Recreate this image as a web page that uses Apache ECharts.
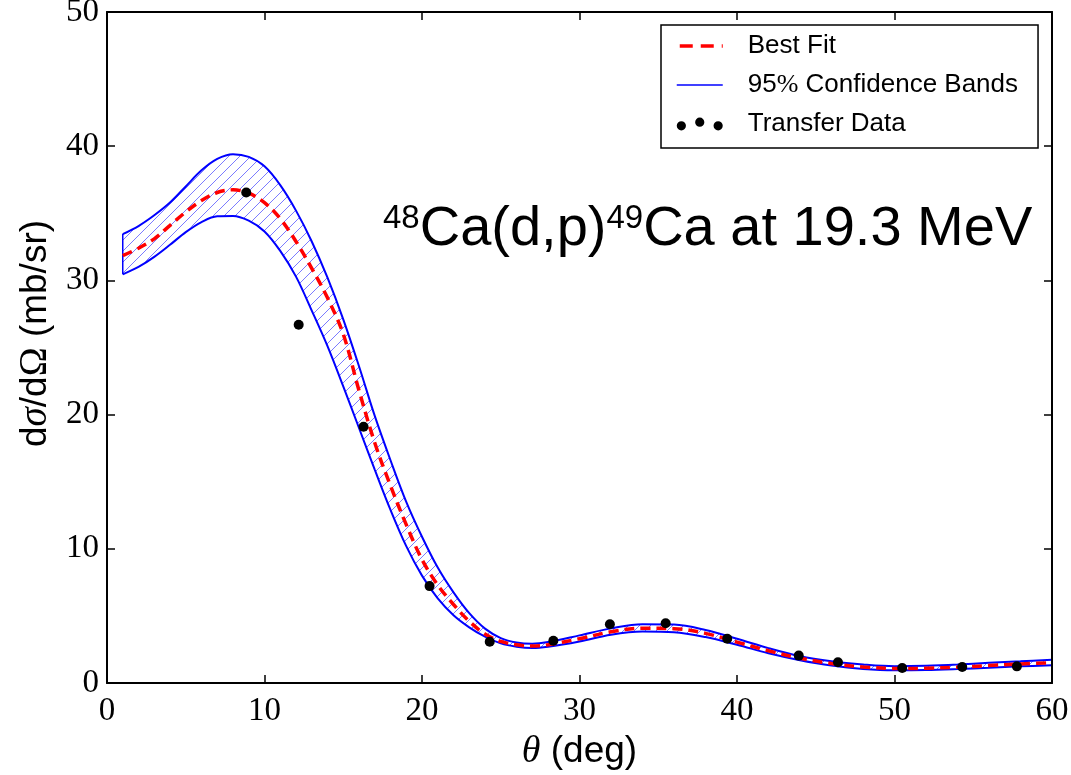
<!DOCTYPE html>
<html><head><meta charset="utf-8">
<script src="https://cdn.jsdelivr.net/npm/echarts@6/dist/echarts.min.js"></script>
<style>html,body{margin:0;padding:0;background:#fff}#c{width:1071px;height:775px}</style>
</head><body><div id="c"></div>
<script>
// ---- data ----
const theta = [1,2,3,4,5,6,7,8,9,10,11,12,13,14,15,16,17,18,19,20,21,22,23,24,25,26,27,28,30,32,34,36,38,40,42,44,46,48,50,52,54,56,58,60];
const upperBand = [33.45,34.05,34.85,35.8,37.0,38.2,39.05,39.4,39.2,38.5,37.1,35.2,32.9,30.2,27.1,23.6,19.9,16.6,13.5,10.9,8.6,6.75,5.2,4.05,3.35,3.02,2.93,3.05,3.55,4.07,4.38,4.35,3.95,3.3,2.6,2.0,1.62,1.38,1.25,1.28,1.37,1.5,1.62,1.74];
const lowerBand = [30.45,31.0,31.75,32.65,33.6,34.35,34.78,34.8,34.45,33.65,32.2,30.28,27.75,25.1,22.1,19.0,15.9,12.9,10.2,8.0,6.3,5.05,4.15,3.45,2.95,2.7,2.6,2.7,3.1,3.6,3.83,3.78,3.42,2.85,2.22,1.7,1.3,1.05,0.95,0.97,1.04,1.13,1.24,1.32];
const bestFit = [31.85,32.4,33.1,34.1,35.1,35.95,36.55,36.75,36.5,35.8,34.6,32.9,30.9,28.7,26.0,21.8,17.9,14.7,11.8,9.2,7.3,5.85,4.6,3.65,3.1,2.85,2.75,2.85,3.3,3.82,4.08,4.05,3.7,3.05,2.4,1.85,1.45,1.2,1.08,1.1,1.18,1.3,1.42,1.5];
const dataTheta = [8.84,12.17,16.29,20.48,24.3,28.34,31.93,35.47,39.38,43.92,46.41,50.49,54.3,57.77];
const dataSigma = [36.55,26.7,19.1,7.22,3.07,3.15,4.38,4.45,3.3,2.04,1.54,1.12,1.19,1.24];
const xTickLabels = [0,10,20,30,40,50,60];
const yTickLabels = [0,10,20,30,40,50];
const seriesNames = ['Best Fit','95% Confidence Bands','Transfer Data'];

// ---- helpers ----
const zip = (xs, ys) => xs.map((x, i) => [x, ys[i]]);
function hatch() {
  const s = 11, c = document.createElement('canvas');
  c.width = s; c.height = s;
  const g = c.getContext('2d');
  g.fillStyle = '#fff'; g.fillRect(0, 0, s, s);
  g.strokeStyle = 'rgba(90,90,255,0.8)'; g.lineWidth = 1;
  g.beginPath();
  g.moveTo(0, s); g.lineTo(s, 0);
  g.moveTo(-1, 1); g.lineTo(1, -1);
  g.moveTo(s - 1, s + 1); g.lineTo(s + 1, s - 1);
  g.stroke();
  return c;
}
const SM = 0.35;
const serif = 'Liberation Serif', sans = 'Liberation Sans';
const axisCommon = () => ({
  z: 10,
  axisLine: {show: true, onZero: false, lineStyle: {color: '#000', width: 2}},
  axisTick: {show: true, inside: true, length: 8, lineStyle: {color: '#000', width: 1.5}},
  splitLine: {show: false}
});
// left closing edge of the band (at the first theta)
const bandEdge = [[theta[0], lowerBand[0]], [theta[0], upperBand[0]]];

const chart = echarts.init(document.getElementById('c'), null, {renderer: 'canvas'});
chart.setOption({
  animation: false,
  backgroundColor: '#fff',
  grid: {left: 107, right: 19, top: 12, bottom: 92, containLabel: false, outerBoundsMode: 'none'},
  xAxis: [
    Object.assign({type: 'value', position: 'bottom', min: xTickLabels[0], max: xTickLabels[xTickLabels.length-1], interval: 10,
      axisLabel: {show: true, margin: 12, fontFamily: serif, fontSize: 33, color: '#000', showMinLabel: true, showMaxLabel: true, hideOverlap: false},
      name: '{i|θ} (deg)', nameLocation: 'middle', nameGap: 40,
      nameTextStyle: {fontFamily: sans, fontSize: 37, color: '#000', rich: {i: {fontFamily: serif, fontStyle: 'italic', fontSize: 38, color: '#000'}}}
    }, axisCommon()),
    Object.assign({type: 'value', position: 'top', min: xTickLabels[0], max: xTickLabels[xTickLabels.length-1], interval: 10, axisLabel: {show: false}}, axisCommon())
  ],
  yAxis: [
    Object.assign({type: 'value', position: 'left', min: yTickLabels[0], max: yTickLabels[yTickLabels.length-1], interval: 10,
      axisLabel: {show: true, margin: 8, fontFamily: serif, fontSize: 33, color: '#000', showMinLabel: true, showMaxLabel: true, hideOverlap: false},
      name: 'd{g|σ}/d{o|Ω} (mb/sr)', nameLocation: 'middle', nameGap: 50, nameRotate: 90,
      nameTextStyle: {fontFamily: sans, fontSize: 37, color: '#000', padding: [0, 0, 0, 28],
        rich: {g: {fontFamily: serif, fontStyle: 'italic', fontSize: 39, color: '#000'}, o: {fontFamily: serif, fontSize: 39, color: '#000'}}}
    }, axisCommon()),
    Object.assign({type: 'value', position: 'right', min: yTickLabels[0], max: yTickLabels[yTickLabels.length-1], interval: 10, axisLabel: {show: false}}, axisCommon())
  ],
  legend: {
    show: true, orient: 'vertical', left: 661, top: 25, padding: [8, 20, 11, 14],
    itemGap: 13, itemWidth: 46, itemHeight: 14, selectedMode: false, z: 20,
    backgroundColor: '#fff', borderColor: '#000', borderWidth: 1.5, borderRadius: 0,
    textStyle: {fontFamily: sans, fontSize: 26, color: '#000',
      rich: {g: {width: 20}, p: {fontFamily: serif, fontSize: 26, color: '#000'}}},
    formatter: n => '{g| }' + (n.indexOf('95%') === 0 ? '95{p|%}' + n.slice(3) : n),
    data: [
      {name: seriesNames[0], itemStyle: {opacity: 0}, lineStyle: {color: '#ff0000', width: 3.5, type: [13, 8], dashOffset: -3}},
      {name: seriesNames[1], itemStyle: {opacity: 0}, lineStyle: {color: '#0000ff', width: 1.5}},
      {name: seriesNames[2], icon: 'path://M0,9a5,5 0 1,0 10,0a5,5 0 1,0 -10,0Z M20,5a5,5 0 1,0 10,0a5,5 0 1,0 -10,0Z M40,9a5,5 0 1,0 10,0a5,5 0 1,0 -10,0Z', itemStyle: {color: '#000'}}
    ]
  },
  graphic: [{
    type: 'text', x: 383, y: 258, z: 100,
    style: {
      text: '{s|48}{m|Ca(d,p)}{s|49}{m|Ca at 19.3 MeV}',
      align: 'left', verticalAlign: 'bottom',
      rich: {
        s: {fontFamily: sans, fontSize: 33, fill: '#000', verticalAlign: 'top'},
        m: {fontFamily: sans, fontSize: 56, fill: '#000', verticalAlign: 'bottom'}
      }
    }
  }],
  series: [
    // hatched fill under the upper band, then a white fill under the lower band
    {name: 'bandHatch', type: 'line', data: zip(theta, upperBand), smooth: SM, symbol: 'none',
      lineStyle: {opacity: 0}, areaStyle: {color: {image: hatch(), repeat: 'repeat'}, opacity: 1, origin: 'start'}, silent: true, z: 1},
    {name: 'bandMask', type: 'line', data: zip(theta, lowerBand), smooth: SM, symbol: 'none',
      lineStyle: {opacity: 0}, areaStyle: {color: '#fff', opacity: 1, origin: 'start', shadowColor: '#fff', shadowBlur: 0, shadowOffsetX: -2}, silent: true, z: 1.5},
    {name: 'bandEdge', type: 'line', data: bandEdge, symbol: 'none',
      lineStyle: {color: '#0000ff', width: 1.5}, silent: true, z: 2},
    {name: seriesNames[1], type: 'line', data: zip(theta, upperBand), smooth: SM, symbol: 'none',
      itemStyle: {color: '#0000ff'}, lineStyle: {color: '#0000ff', width: 2}, z: 2},
    {name: seriesNames[1], type: 'line', data: zip(theta, lowerBand), smooth: SM, symbol: 'none',
      itemStyle: {color: '#0000ff'}, lineStyle: {color: '#0000ff', width: 2}, z: 2},
    {name: seriesNames[0], type: 'line', data: zip(theta, bestFit), smooth: SM, symbol: 'none',
      itemStyle: {color: '#ff0000'}, lineStyle: {color: '#ff0000', width: 3.5, type: [10, 6]}, z: 3},
    {name: seriesNames[2], type: 'scatter', data: zip(dataTheta, dataSigma), symbolSize: 10,
      itemStyle: {color: '#000', opacity: 1}, z: 4}
  ]
});
</script>
</body></html>
